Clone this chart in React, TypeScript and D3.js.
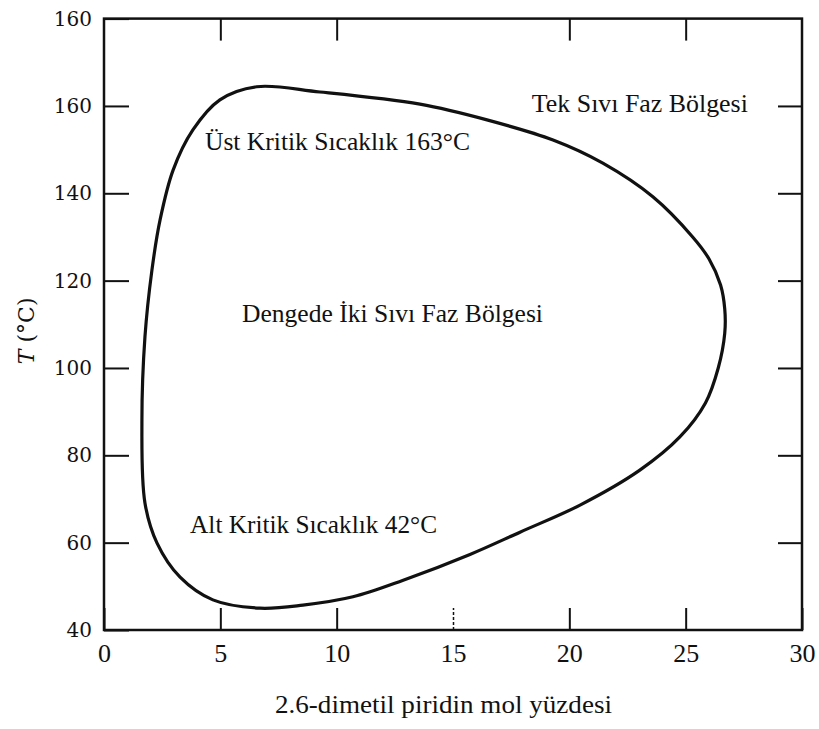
import * as d3 from "d3";
import { useEffect, useRef } from "react";

// phase boundary, going round the loop from the top
const curveX = [
  6.56, 4.98, 3.82, 2.97, 2.41, 2.06, 1.76, 1.63, 1.76, 2.28, 3.27, 4.68, 6.7,
  8.55, 10.7, 12.86, 15.73, 17.88, 20.46, 23.03, 24.75, 25.85, 26.4, 26.68,
  26.68, 26.5, 26.0, 25.3, 23.59, 21.44, 19.3, 16.46, 13.58, 9.28,
];
const curveT = [
  164.4, 161.4, 154.5, 145.3, 133.9, 122.4, 107.1, 88.1, 69.1, 59.9, 52.1, 46.9,
  45.0, 45.7, 47.6, 51.4, 57.3, 62.4, 68.6, 76.6, 84.2, 92.0, 100.0, 108.0,
  113.5, 119.0, 125.0, 130.0, 139.2, 146.9, 152.2, 156.8, 160.4, 163.2,
];

const xTicks = [0, 5, 10, 15, 20, 25, 30];
const xTopTicks = [5, 10, 20, 25];
const yTicks = [40, 60, 80, 100, 120, 140, 160, 180];
const yTickLabels = ["40", "60", "80", "100", "120", "140", "160", "160"];

const labels = [
  { text: "Tek Sıvı Faz Bölgesi", x: 18.39, t: 158.6, w: 216 },
  { text: "Üst Kritik Sıcaklık 163°C", x: 4.34, t: 149.9, w: 265 },
  { text: "Dengede İki Sıvı Faz Bölgesi", x: 5.93, t: 110.5, w: 301 },
  { text: "Alt Kritik Sıcaklık 42°C", x: 3.7, t: 62.2, w: 247 },
];

const SERIF = "'Liberation Serif', 'Times New Roman', serif";
const WIDE = "'DejaVu Serif', serif";

const App: React.FC = () => {
  const ref = useRef<SVGSVGElement | null>(null);

  useEffect(() => {
    const width = 819;
    const height = 729;
    const margin = { top: 18.6, right: 17, bottom: 99, left: 104 };

    const svg = d3.select(ref.current);
    svg.selectAll("*").remove();
    svg.attr("width", width).attr("height", height);

    svg.append("rect").attr("width", width).attr("height", height).attr("fill", "#fff");

    const x = d3.scaleLinear().domain([0, 30]).range([margin.left, width - margin.right]);
    const y = d3.scaleLinear().domain([40, 180]).range([height - margin.bottom, margin.top]);

    const styleAxis = (g: d3.Selection<SVGGElement, unknown, null, undefined>) => {
      g.select(".domain").remove();
      g.selectAll(".tick line").attr("stroke", "#111").attr("stroke-width", 2);
      g.selectAll(".tick text").attr("fill", "#111");
    };

    // bottom axis with labels
    svg
      .append("g")
      .attr("transform", `translate(0,${y(40)})`)
      .call(d3.axisBottom(x).tickValues(xTicks).tickSize(-22).tickPadding(14).tickFormat(d3.format("d")))
      .call(styleAxis)
      .call((g) =>
        g.selectAll(".tick text").attr("font-family", SERIF).attr("font-size", 26)
      )
      .call((g) =>
        g
          .selectAll(".tick")
          .filter((d) => d === 15)
          .select("line")
          .attr("stroke-width", 1.5)
          .attr("stroke-dasharray", "3,2")
      );

    // top ticks
    svg
      .append("g")
      .attr("transform", `translate(0,${y(180)})`)
      .call(d3.axisTop(x).tickValues(xTopTicks).tickSize(-22).tickFormat(() => ""))
      .call(styleAxis);

    // left axis with labels
    svg
      .append("g")
      .attr("transform", `translate(${x(0)},0)`)
      .call(
        d3
          .axisLeft(y)
          .tickValues(yTicks)
          .tickSize(-25)
          .tickPadding(12)
          .tickFormat((d, i) => yTickLabels[i])
      )
      .call(styleAxis)
      .call((g) =>
        g.selectAll(".tick text").attr("font-family", WIDE).attr("font-size", 20)
      );

    // right ticks
    svg
      .append("g")
      .attr("transform", `translate(${x(30)},0)`)
      .call(d3.axisRight(y).tickValues(yTicks.slice(1, -1)).tickSize(-24).tickFormat(() => ""))
      .call(styleAxis);

    // frame
    svg
      .append("rect")
      .attr("x", x(0))
      .attr("y", y(180))
      .attr("width", x(30) - x(0))
      .attr("height", y(40) - y(180))
      .attr("fill", "none")
      .attr("stroke", "#111")
      .attr("stroke-width", 2.5);

    // phase boundary
    const pts = curveX.map((v, i) => [v, curveT[i]] as [number, number]);
    const line = d3
      .line<[number, number]>()
      .x((d) => x(d[0]))
      .y((d) => y(d[1]))
      .curve(d3.curveCatmullRomClosed.alpha(0.5));

    svg
      .append("path")
      .attr("d", line(pts))
      .attr("fill", "none")
      .attr("stroke", "#111")
      .attr("stroke-width", 3.2);

    // region labels
    svg
      .selectAll(".region")
      .data(labels)
      .enter()
      .append("text")
      .attr("class", "region")
      .attr("x", (d) => x(d.x))
      .attr("y", (d) => y(d.t))
      .attr("font-family", SERIF)
      .attr("font-size", 25.5)
      .attr("textLength", (d) => d.w)
      .attr("lengthAdjust", "spacingAndGlyphs")
      .attr("fill", "#111")
      .text((d) => d.text);

    // axis titles
    svg
      .append("text")
      .attr("x", 275)
      .attr("y", 713)
      .attr("font-family", SERIF)
      .attr("font-size", 25)
      .attr("textLength", 337)
      .attr("lengthAdjust", "spacingAndGlyphs")
      .attr("fill", "#111")
      .text("2.6-dimetil piridin mol yüzdesi");

    const yt = svg
      .append("text")
      .attr("transform", `translate(34,${y(108.5)}) rotate(-90)`)
      .attr("text-anchor", "middle")
      .attr("font-family", WIDE)
      .attr("font-size", 22)
      .attr("fill", "#111");
    yt.append("tspan").attr("font-style", "italic").text("T");
    yt.append("tspan").text(" (°C)");
  }, []);

  return (
    <svg
      ref={ref}
      style={{ position: "absolute", left: 0, top: 0, display: "block" }}
    />
  );
};

export default App;
